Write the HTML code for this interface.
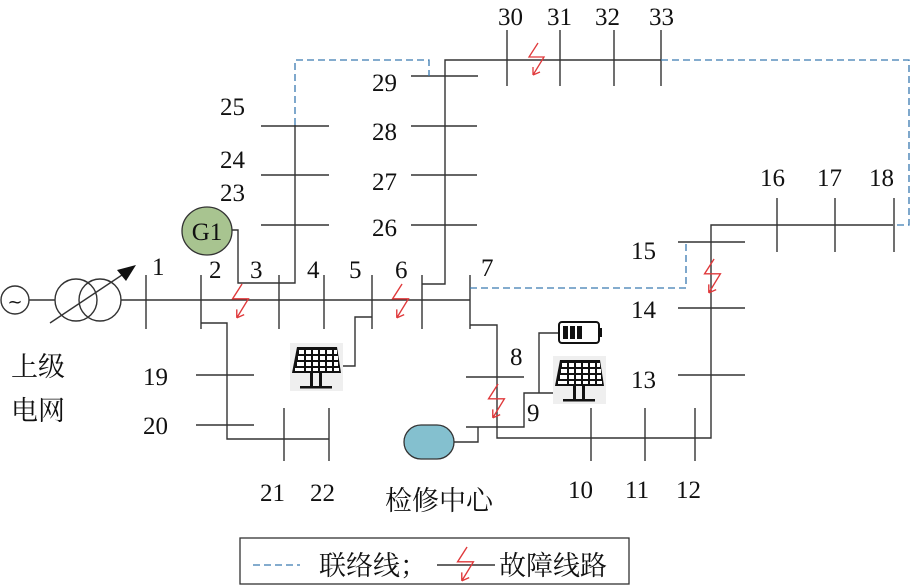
<!DOCTYPE html>
<html><head><meta charset="utf-8"><style>
html,body{margin:0;padding:0;background:#fff;}
svg{display:block;}
.n{font-family:"Liberation Serif",serif;font-size:25px;fill:#111;}
.c{font-family:"Liberation Serif","Noto Serif CJK SC",serif;font-size:27px;fill:#111;}
</style></head><body>
<svg width="911" height="585" viewBox="0 0 911 585" xmlns="http://www.w3.org/2000/svg">
<defs>
<symbol id="pv" viewBox="0 0 53 48">
<rect x="0" y="0" width="53" height="48" fill="#efefef"/>
<path d="M7 4 H47 L51 30 H2 Z" fill="#111"/>
<g fill="#fff">
<rect x="9" y="7" width="5" height="4"/><rect x="16" y="7" width="5" height="4"/><rect x="23" y="7" width="5" height="4"/><rect x="30" y="7" width="5" height="4"/><rect x="37" y="7" width="5" height="4"/><rect x="44" y="7" width="3" height="4"/>
<rect x="8" y="13" width="6" height="4"/><rect x="16" y="13" width="5" height="4"/><rect x="23" y="13" width="5" height="4"/><rect x="30" y="13" width="5" height="4"/><rect x="37" y="13" width="5" height="4"/><rect x="44" y="13" width="4" height="4"/>
<rect x="7" y="19" width="7" height="4"/><rect x="16" y="19" width="5" height="4"/><rect x="23" y="19" width="5" height="4"/><rect x="30" y="19" width="5" height="4"/><rect x="37" y="19" width="5" height="4"/><rect x="44" y="19" width="4" height="4"/>
<rect x="5" y="25" width="9" height="3"/><rect x="16" y="25" width="5" height="3"/><rect x="23" y="25" width="5" height="3"/><rect x="30" y="25" width="5" height="3"/><rect x="37" y="25" width="5" height="3"/><rect x="44" y="25" width="5" height="3"/>
</g>
<rect x="20" y="30" width="3" height="14" fill="#111"/><rect x="29" y="30" width="3" height="14" fill="#111"/>
<rect x="10" y="43" width="32" height="2.5" fill="#111"/>
</symbol>
<symbol id="flt" viewBox="0 0 20 36">
<path d="M11 1 L2 15 H17 L6 33 M6 33 L6 25 M6 33 L13 30" fill="none" stroke="#e0393b" stroke-width="1.3"/>
</symbol>
</defs>
<g stroke="#333" stroke-width="1.4" fill="none">
<circle cx="15" cy="300" r="14"/>
<line x1="29" y1="300" x2="55" y2="300"/>
<circle cx="76" cy="300" r="21"/><circle cx="100" cy="300" r="21"/>
<line x1="121" y1="300" x2="470" y2="300"/>
<line x1="50" y1="323" x2="125" y2="273"/>
<line x1="146" y1="275" x2="146" y2="329"/>
<line x1="201" y1="275" x2="201" y2="329"/>
<line x1="279" y1="275" x2="279" y2="329"/>
<line x1="324" y1="275" x2="324" y2="329"/>
<line x1="372" y1="275" x2="372" y2="329"/>
<line x1="422" y1="275" x2="422" y2="329"/>
<line x1="470" y1="275" x2="470" y2="329"/>
<polyline points="232,230 238,230 238,283 295,283 295,125"/>
<line x1="261" y1="126" x2="329" y2="126"/>
<line x1="261" y1="175" x2="329" y2="175"/>
<line x1="261" y1="225" x2="329" y2="225"/>
<polyline points="422,284 445,284 445,60 661,60"/>
<line x1="411" y1="76" x2="478" y2="76"/>
<line x1="411" y1="126" x2="477" y2="126"/>
<line x1="411" y1="175" x2="477" y2="175"/>
<line x1="411" y1="225" x2="477" y2="225"/>
<line x1="507" y1="30" x2="507" y2="86"/>
<line x1="560" y1="30" x2="560" y2="86"/>
<line x1="614" y1="30" x2="614" y2="86"/>
<line x1="661" y1="30" x2="661" y2="86"/>
<polyline points="201,323 227,323 227,439 329,439"/>
<line x1="196" y1="375" x2="254" y2="375"/>
<line x1="196" y1="425" x2="254" y2="425"/>
<line x1="284" y1="408" x2="284" y2="461"/>
<line x1="329" y1="408" x2="329" y2="461"/>
<polyline points="343,366 355,366 355,317 372,317"/>
<polyline points="470,325 497,325 497,438 711,438 711,225 893,225"/>
<line x1="466" y1="377" x2="524" y2="377"/>
<polyline points="466,427 524,427 524,393 554,393"/>
<polyline points="539,393 539,333 559,333"/>
<polyline points="454,442 478,442 478,427"/>
<line x1="591" y1="408" x2="591" y2="461"/>
<line x1="645" y1="408" x2="645" y2="461"/>
<line x1="695" y1="408" x2="695" y2="461"/>
<line x1="678" y1="242" x2="745" y2="242"/>
<line x1="678" y1="308" x2="745" y2="308"/>
<line x1="678" y1="375" x2="745" y2="375"/>
<line x1="777" y1="198" x2="777" y2="252"/>
<line x1="835" y1="198" x2="835" y2="252"/>
<line x1="894" y1="198" x2="894" y2="252"/>
</g>
<g stroke="#3a7ab0" stroke-width="1.3" fill="none" stroke-dasharray="7,4">
<polyline points="295,125 295,60 429,60 429,76"/>
<polyline points="661,60 909,60 909,225 893,225"/>
<polyline points="470,288 686,288 686,242"/>
<line x1="253" y1="565" x2="300" y2="565"/>
</g>
<polygon points="136,265 117,270 126,281" fill="#111"/>
<text x="15" y="308" text-anchor="middle" font-family="DejaVu Sans" font-size="18" fill="#111">~</text>
<ellipse cx="207" cy="231" rx="25" ry="24" fill="#a8c490" stroke="#333" stroke-width="1.3"/>
<text x="207" y="240" text-anchor="middle" class="n">G1</text>
<rect x="404" y="425" width="50" height="34" rx="17" fill="#84c0cf" stroke="#333" stroke-width="1.3"/>
<rect x="559" y="322" width="40" height="21" rx="3" fill="#fff" stroke="#111" stroke-width="2"/>
<rect x="599" y="328" width="3" height="9" fill="#111"/>
<rect x="563" y="326" width="5" height="13" fill="#111"/><rect x="570" y="326" width="5" height="13" fill="#111"/><rect x="577" y="326" width="5" height="13" fill="#111"/>
<use href="#pv" x="290" y="343" width="53" height="48"/>
<use href="#pv" x="553" y="356" width="53" height="48"/>
<use href="#flt" x="230" y="283" width="22" height="38"/>
<use href="#flt" x="390" y="283" width="22" height="38"/>
<use href="#flt" x="527" y="42" width="20" height="36"/>
<use href="#flt" x="702" y="258" width="22" height="38"/>
<use href="#flt" x="486" y="383" width="22" height="38"/>
<g class="n">
<text x="152" y="275">1</text><text x="209" y="278">2</text><text x="250" y="278">3</text><text x="307" y="278">4</text><text x="349" y="278">5</text><text x="395" y="278">6</text><text x="481" y="276">7</text>
<text x="220" y="115">25</text><text x="220" y="168">24</text><text x="220" y="201">23</text>
<text x="372" y="91">29</text><text x="372" y="140">28</text><text x="372" y="190">27</text><text x="372" y="236">26</text>
<text x="498" y="25">30</text><text x="547" y="25">31</text><text x="595" y="25">32</text><text x="649" y="25">33</text>
<text x="760" y="186">16</text><text x="817" y="186">17</text><text x="869" y="186">18</text>
<text x="631" y="259">15</text><text x="631" y="318">14</text><text x="631" y="388">13</text>
<text x="510" y="365">8</text><text x="527" y="421">9</text>
<text x="568" y="498">10</text><text x="625" y="498">11</text><text x="676" y="498">12</text>
<text x="143" y="385">19</text><text x="143" y="434">20</text>
<text x="260" y="501">21</text><text x="310" y="501">22</text>
</g>
<text x="11" y="376" class="c">上级</text>
<text x="11" y="420" class="c">电网</text>
<text x="385" y="510" class="c" font-size="25">检修中心</text>
<rect x="240" y="538" width="389" height="46" fill="none" stroke="#333" stroke-width="1.3"/>
<text x="319" y="575" class="c" font-size="25">联络线；</text>
<line x1="437" y1="565" x2="495" y2="565" stroke="#333" stroke-width="1.4"/>
<use href="#flt" x="455" y="546" width="22" height="38"/>
<text x="499" y="575" class="c" font-size="25">故障线路</text>
</svg>
</body></html>
